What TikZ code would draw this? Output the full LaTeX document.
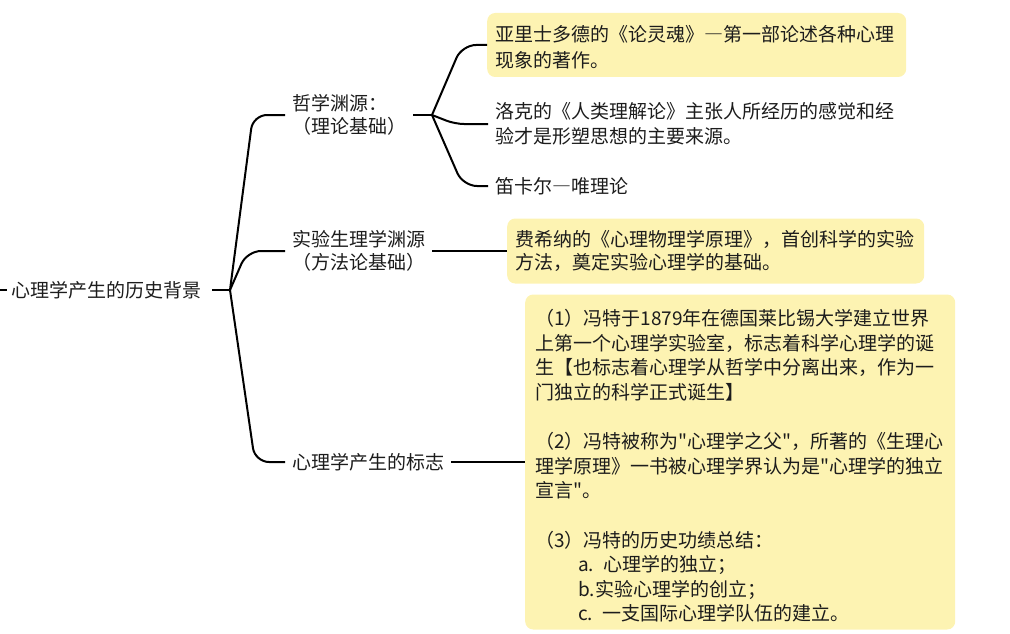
\documentclass[tikz,border=0pt]{standalone}
\usepackage{fontspec}
\setmainfont{Noto Sans CJK SC}[Ligatures=TeXOff]
\setlength\parindent{0pt}
\definecolor{boxyellow}{RGB}{253,243,178}
\definecolor{txt}{RGB}{28,28,28}
\begin{document}
\begin{tikzpicture}[x=1pt,y=-1pt,
  conn/.style={line width=2pt, draw=black, line join=round, rounded corners=14pt},
  topic/.style={inner xsep=7pt, inner ysep=0pt, anchor=west, align=left, text=txt,
    font=\fontsize{19}{23.5}\selectfont},
  leaf/.style={inner xsep=7pt, inner ysep=0pt, anchor=west, align=left, text=txt},
  ybox/.style={leaf, fill=boxyellow, rounded corners=8pt},
]
\useasboundingbox (0,0) rectangle (1010,634);

% root and topics
\node[topic, inner xsep=10pt, anchor=east] (root) at (212,290) {心理学产生的历史背景};
\node[topic] (t1) at (285,115) {哲学渊源：\\（理论基础）};
\node[topic] (t2) at (285,251) {实验生理学渊源\\（方法论基础）};
\node[topic] (t3) at (285,462) {心理学产生的标志};

% leaves
\node[ybox, inner xsep=8pt, text width=403pt, minimum height=64pt,
  font=\fontsize{19}{26}\selectfont] (b1) at (487,45)
  {\rule{0pt}{20pt}亚里士多德的《论灵魂》―第一部论述各种心理\\现象的著作。};
\node[leaf, font=\fontsize{19}{25.5}\selectfont] (b2) at (488,124)
  {洛克的《人类理解论》主张人所经历的感觉和经\\验才是形塑思想的主要来源。};
\node[leaf, font=\fontsize{19}{25}\selectfont] (b3) at (488,186) {笛卡尔―唯理论};
\node[ybox, inner xsep=8pt, text width=401pt, minimum height=65pt,
  font=\fontsize{19}{22.5}\selectfont] (b4) at (507,251)
  {费希纳的《心理物理学原理》，首创科学的实验\\方法，奠定实验心理学的基础。};
\node[ybox, inner xsep=10pt, text width=410pt, minimum height=335pt,
  font=\fontsize{19}{24.6}\selectfont] (b5) at (525,462)
  {\rule{0pt}{24pt}（1）冯特于1879年在德国莱比锡大学建立世界\\
   上第一个心理学实验室，标志着科学心理学的诞\\
   生【也标志着心理学从哲学中分离出来，作为一\\
   门独立的科学正式诞生】\\[24.6pt]
   （2）冯特被称为"心理学之父"，所著的《生理心\\
   理学原理》一书被心理学界认为是"心理学的独立\\
   宣言"。\\[24.6pt]
   （3）冯特的历史功绩总结：\\
   \hspace*{43pt}a. 心理学的独立；\\
   \hspace*{43pt}b.实验心理学的创立；\\
   \hspace*{43pt}c. 一支国际心理学队伍的建立。};

% junctions
\coordinate (lt) at (0,290);
\coordinate (lt2) at (7,290);
\coordinate (rj) at (230,290);
\coordinate (j1) at (432,115);
\coordinate (c1) at (253,115);
\coordinate (c2) at (247,251);
\coordinate (c3) at (255,462);
\coordinate (d1) at (462,45);
\coordinate (d2) at (455,124);
\coordinate (d3) at (463,186);

% connectors
\draw[conn] (lt) -- (lt2);
\draw[conn] (root.east) -- (rj);
\draw[conn] (rj) -- (c1) -- (t1.west);
\draw[conn] (rj) -- (c2) -- (t2.west);
\draw[conn] (rj) -- (c3) -- (t3.west);
\draw[conn] (t1.east) -- (j1);
\draw[conn] (j1) -- (d1) -- (b1.west);
\draw[conn, rounded corners=9pt] (j1) -- (d2) -- (b2.west);
\draw[conn] (j1) -- (d3) -- (b3.west);
\draw[conn] (t2.east) -- (b4.west);
\draw[conn] (t3.east) -- (b5.west);
\end{tikzpicture}
\end{document}
